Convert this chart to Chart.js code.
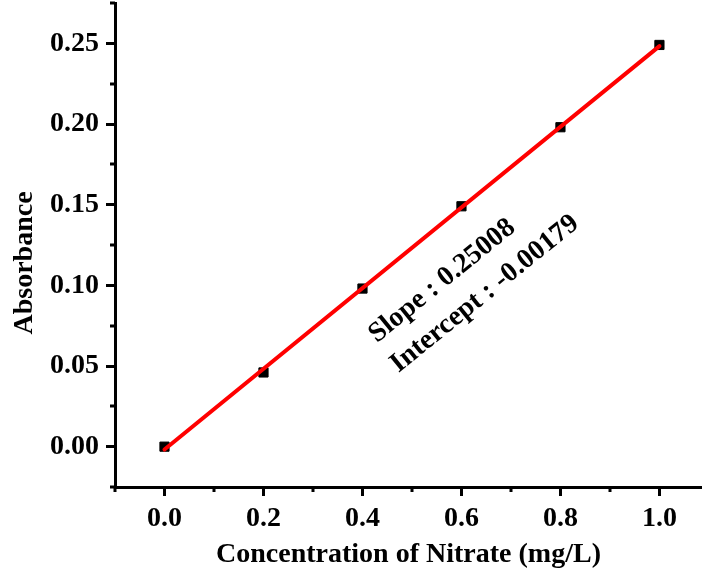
<!DOCTYPE html>
<html>
<head>
<meta charset="utf-8">
<script src="https://cdn.jsdelivr.net/npm/chart.js@4.4.1/dist/chart.umd.min.js"></script>
<style>
  html, body { margin: 0; padding: 0; background: #fff; }
  #wrap { width: 702px; height: 577px; }
</style>
</head>
<body>
<div id="wrap"><canvas id="calChart"></canvas></div>
<script>
// Nitrate calibration data
const concentration = [0.0, 0.2, 0.4, 0.6, 0.8, 1.0];
const absorbance = [0.000, 0.046, 0.098, 0.149, 0.198, 0.249];

// Linear fit result
const slope = 0.25008;
const intercept = -0.00179;
const fitRange = [0.0, 1.0];

// Axis ticks
const xMajor = [0.0, 0.2, 0.4, 0.6, 0.8, 1.0];
const xMinor = [-0.1, 0.1, 0.3, 0.5, 0.7, 0.9];
const yMajor = [0.00, 0.05, 0.10, 0.15, 0.20, 0.25];
const yMinor = [-0.025, 0.025, 0.075, 0.125, 0.175, 0.225, 0.275];

// Fit annotation (text, x, y in data units)
const noteLines = ["Slope : 0.25008", "Intercept : -0.00179"];
const noteX = [0.561, 0.647];
const noteY = [0.1027, 0.0947];

const FONT = '"Liberation Serif", "Times New Roman", serif';

const fitPoints = fitRange.map(x => ({ x: x, y: slope * x + intercept }));
const dataPoints = concentration.map((x, i) => ({ x: x, y: absorbance[i] }));

// minor ticks, axis titles and the fit note
const extras = {
  id: "extras",
  afterDraw(chart) {
    const c = chart.ctx;
    const xs = chart.scales.x, ys = chart.scales.y;
    const area = chart.chartArea;
    c.save();
    c.strokeStyle = "#000";
    c.lineWidth = 3;
    c.beginPath();
    xMinor.forEach(v => {
      const px = Math.round(xs.getPixelForValue(v));
      c.moveTo(px, area.bottom);
      c.lineTo(px, area.bottom + 5);
    });
    yMinor.forEach(v => {
      const py = Math.round(ys.getPixelForValue(v));
      c.moveTo(area.left, py);
      c.lineTo(area.left - 5, py);
    });
    c.stroke();

    c.fillStyle = "#000";
    c.font = "bold 28px " + FONT;
    c.textAlign = "center";
    c.textBaseline = "alphabetic";
    c.fillText("Concentration of Nitrate (mg/L)", (area.left + area.right) / 2, 562);

    c.save();
    c.translate(32, 263);
    c.rotate(-Math.PI / 2);
    c.fillText("Absorbance", 0, 0);
    c.restore();

    c.font = "bold 28px " + FONT;
    c.textBaseline = "middle";
    noteLines.forEach((t, i) => {
      c.save();
      c.translate(xs.getPixelForValue(noteX[i]), ys.getPixelForValue(noteY[i]));
      c.rotate(-39 * Math.PI / 180);
      c.fillText(t, 0, 0);
      c.restore();
    });
    c.restore();
  }
};

new Chart(document.getElementById("calChart"), {
  type: "scatter",
  data: {
    datasets: [
      {
        type: "line",
        label: "Linear fit",
        data: fitPoints,
        borderColor: "#ff0000",
        borderWidth: 4,
        borderCapStyle: "round",
        pointRadius: 0,
        fill: false
      },
      {
        label: "Absorbance",
        data: dataPoints,
        pointStyle: "rect",
        pointRadius: 6.5,
        backgroundColor: "#000",
        borderColor: "#000",
        borderWidth: 1
      }
    ]
  },
  options: {
    responsive: true,
    maintainAspectRatio: false,
    animation: false,
    layout: {
      autoPadding: false,
      padding: { top: 3, right: 0, left: 0, bottom: 0 }
    },
    plugins: {
      legend: { display: false },
      tooltip: { enabled: false }
    },
    scales: {
      x: {
        type: "linear",
        min: -0.1,
        max: 1.086,
        afterBuildTicks: s => { s.ticks = xMajor.map(v => ({ value: v })); },
        afterFit: s => {
          s.height = 90;
          s.paddingLeft = 0;
          s.paddingRight = 0;
        },
        ticks: {
          color: "#000",
          padding: 6,
          font: { family: FONT, size: 28, weight: "bold" },
          callback: v => v.toFixed(1)
        },
        grid: {
          drawOnChartArea: false,
          drawTicks: true,
          tickLength: 9,
          tickWidth: 3,
          tickColor: "#000"
        },
        border: { display: true, color: "#000", width: 3 }
      },
      y: {
        type: "linear",
        min: -0.025,
        max: 0.275,
        afterBuildTicks: s => { s.ticks = yMajor.map(v => ({ value: v })); },
        afterFit: s => {
          s.width = 115;
          s.paddingTop = 0;
          s.paddingBottom = 0;
        },
        ticks: {
          color: "#000",
          padding: 7,
          font: { family: FONT, size: 28, weight: "bold" },
          callback: v => v.toFixed(2)
        },
        grid: {
          drawOnChartArea: false,
          drawTicks: true,
          tickLength: 9,
          tickWidth: 3,
          tickColor: "#000"
        },
        border: { display: true, color: "#000", width: 3 }
      }
    }
  },
  plugins: [extras]
});
</script>
</body>
</html>
